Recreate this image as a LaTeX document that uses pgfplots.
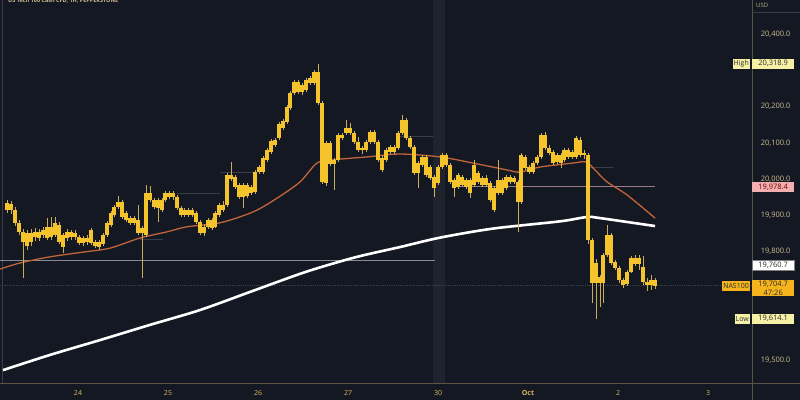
\documentclass[border=0pt]{standalone}
\usepackage{pgfplots}
\pgfplotsset{compat=1.18}
\usepackage{pgfplotstable}
\usepackage{fontspec}
\setmainfont{Open Sans}
\definecolor{bg}{HTML}{141823}
\definecolor{band}{HTML}{1F232E}
\definecolor{bodyc}{HTML}{F5C42C}
\definecolor{wick}{HTML}{C9AE5A}
\definecolor{ma}{HTML}{C2643A}
\definecolor{lab}{HTML}{CFBE8E}
\definecolor{datec}{HTML}{D8B95E}
\definecolor{sep}{HTML}{5A5444}
\definecolor{hiy}{HTML}{F6F0A6}
\definecolor{pinkb}{HTML}{F2AFAF}
\definecolor{nasb}{HTML}{F5B41E}
\definecolor{dark}{HTML}{2A2A2A}
\definecolor{hline}{HTML}{8A8A96}
\definecolor{pline}{HTML}{9A7C84}
\definecolor{fline}{HTML}{3A3E4A}

\pgfplotstableread{
x o h l c
7 19915 19942 19906 19934
11 19931 19939 19903 19915
15 19914 19923 19870 19879
19 19879 19887 19845 19854
23 19854 19862 19727 19826
27 19815 19859 19804 19851
31 19851 19862 19815 19826
35 19840 19865 19829 19854
39 19854 19862 19829 19837
43 19845 19868 19837 19859
47 19837 19892 19831 19867
51 19867 19895 19832 19840
55 19845 19895 19840 19879
59 19873 19880 19820 19826
63 19812 19850 19796 19845
67 19837 19862 19830 19854
71 19854 19860 19832 19840
75 19840 19858 19832 19851
79 19840 19845 19817 19823
83 19823 19843 19815 19837
87 19837 19845 19818 19826
91 19823 19865 19817 19859
95 19826 19832 19808 19815
99 19812 19832 19805 19826
103 19820 19851 19815 19845
107 19845 19884 19840 19879
111 19873 19912 19868 19906
114 19901 19928 19895 19923
118 19923 19953 19918 19936
122 19936 19942 19890 19895
126 19906 19912 19881 19887
130 19892 19898 19873 19879
134 19879 19898 19873 19892
138 19887 19928 19845 19851
142 19851 19870 19727 19865
146 19845 19983 19840 19961
150 19961 19980 19936 19942
154 19942 19948 19917 19923
158 19920 19948 19881 19942
162 19942 19948 19908 19914
165 19942 19966 19936 19961
169 19961 19967 19945 19950
173 19950 19966 19942 19961
177 19950 19956 19914 19920
181 19920 19925 19895 19901
184 19901 19920 19895 19914
188 19914 19920 19895 19901
192 19901 19920 19894 19914
196 19906 19912 19876 19881
200 19881 19887 19845 19851
204 19851 19876 19842 19868
208 19868 19892 19862 19887
212 19887 19892 19860 19865
215 19868 19912 19865 19906
219 19901 19934 19895 19928
223 19928 19940 19908 19914
227 19928 20017 19922 20011
231 20011 20047 19994 20000
235 20005 20011 19972 19978
239 19983 19989 19945 19950
243 19950 19989 19920 19983
247 19983 19989 19948 19953
251 19961 19983 19956 19978
255 19964 20025 19958 20019
259 20019 20039 20014 20033
263 20019 20064 20014 20058
267 20053 20086 20047 20080
271 20075 20111 20069 20105
275 20094 20113 20088 20108
279 20113 20157 20108 20152
283 20141 20166 20135 20160
287 20157 20204 20152 20199
290 20196 20243 20191 20238
294 20238 20273 20232 20268
298 20268 20274 20235 20240
302 20240 20265 20232 20260
306 20246 20280 20240 20274
310 20265 20285 20260 20279
314 20265 20301 20260 20296
318 20296 20318.9 20205 20210
322 20210 20215 19986 19992
326 19989 20105 19980 20100
330 20100 20105 20036 20041
334 20041 20058 19970 20053
338 20053 20127 20047 20122
342 20122 20127 20108 20114
346 20127 20163 20122 20141
350 20141 20155 20122 20127
354 20127 20133 20097 20102
358 20102 20116 20075 20080
362 20080 20091 20069 20086
366 20080 20108 20075 20102
370 20102 20135 20097 20130
374 20130 20135 20097 20102
378 20102 20108 20047 20053
382 20058 20064 20019 20025
386 20053 20086 20047 20080
390 20075 20094 20069 20088
394 20088 20094 20069 20075
398 20086 20133 20080 20127
402 20127 20177 20122 20163
406 20163 20168 20108 20113
410 20113 20119 20083 20088
414 20088 20094 20011 20017
418 20017 20050 19975 20044
422 20039 20066 20033 20061
426 20061 20066 20005 20011
430 20033 20039 19997 20003
434 20005 20011 19950 19975
438 19989 20039 19983 20033
442 20033 20072 20028 20066
446 20066 20072 20033 20039
450 20039 20044 19986 19992
454 19997 20003 19950 19975
458 19978 20017 19972 20011
462 20005 20011 19978 19983
466 19978 20003 19972 19997
470 19997 20003 19948 19961
474 19983 20053 19978 20039
478 20017 20022 19986 19992
482 19983 20008 19978 20003
486 20003 20011 19978 19983
490 19989 19994 19936 19942
494 19975 19980 19908 19914
498 19961 20053 19956 19997
502 19997 20003 19955 19961
506 19975 20011 19970 20005
510 20005 20011 19986 19992
514 19992 20008 19986 20003
518 19992 19997 19854 19936
521 19936 20072 19931 20066
525 20061 20066 20025 20030
529 20033 20039 20014 20019
533 20019 20050 20014 20044
537 20044 20066 20039 20061
541 20061 20127 20055 20122
545 20122 20130 20080 20086
549 20086 20094 20066 20072
553 20075 20080 20039 20044
557 20047 20072 20041 20066
561 20066 20072 20030 20044
564 20053 20086 20047 20080
568 20080 20086 20055 20061
572 20061 20080 20055 20075
576 20061 20119 20055 20113
580 20108 20116 20061 20066
584 20066 20080 20055 20072
588 20066 20072 19820 19832
592 19832 19837 19657 19713
596 19713 19780 19614.1 19768
600 19729 19735 19646 19713
603 19713 19796 19657 19790
607 19790 19873 19784 19845
611 19845 19851 19762 19768
615 19771 19776 19748 19754
619 19754 19760 19713 19721
623 19721 19727 19699 19707
627 19710 19748 19704 19743
631 19743 19787 19740 19782
635 19782 19790 19760 19765
639 19765 19790 19750 19782
643 19757 19787 19707 19716
647 19716 19727 19690 19707
651 19707 19735 19693 19721
655 19721 19727 19696 19704.7
}\candles

\begin{document}
\begin{tikzpicture}
\begin{axis}[
  scale only axis, width=800pt, height=400pt,
  xmin=0, xmax=800, ymin=19389.5, ymax=20494.5,
  axis background/.style={fill=bg},
  axis line style={draw=none},
  tick style={draw=none}, major tick length=0pt,
  scaled ticks=false,
  xtick={78,168,258,348,438,528,618,708},
  xticklabels={24,25,26,27,30,\textbf{Oct},2,3},
  xticklabel style={anchor=south, font=\fontsize{7}{8}\selectfont, text=datec, yshift=1pt},
  ytick={19500,19800,19900,20000,20100,20200,20400},
  yticklabel pos=right,
  yticklabel style={anchor=east, xshift=-6pt, font=\fontsize{7.5}{9}\selectfont, text=lab,
    /pgf/number format/.cd, fixed, fixed zerofill, precision=1, 1000 sep={,}, assume math mode=true},
  clip=true,
]
% session band and frame lines
\fill[band] (433,19436.5) rectangle (445,20494.5);
\draw[fline, line width=1pt] (2,19436.5) -- (2,20494.5);
\draw[sep, line width=0.8pt] (0,19436.5) -- (800,19436.5);
\draw[sep, line width=0.8pt] (752,19389.5) -- (752,20494.5);
% horizontal levels
\draw[hline, line width=1pt] (0,19776) -- (435,19776);
\draw[pline, line width=1pt] (460,19978.4) -- (655,19978.4);
\draw[fline, line width=0.8pt, densely dotted] (0,19704.7) -- (752,19704.7);
\draw[fline, line width=0.8pt] (177,19961) -- (220,19961);
\draw[fline, line width=0.8pt] (140,19832) -- (163,19832);
\draw[fline, line width=0.8pt] (220,20017) -- (253,20017);
\draw[fline, line width=0.8pt] (400,20119) -- (433,20119);
\draw[fline, line width=0.8pt] (587,20033) -- (613,20033);
% moving averages
\addplot[white, line width=2.6pt, smooth, mark=none] coordinates {
(3,19472) (50,19514) (100,19555) (150,19597) (200,19638) (250,19688) (300,19738) (330,19764) (360,19787) (400,19812) (440,19838) (493,19863) (560,19883) (587,19895) (600,19892) (655,19870)};
\addplot[ma, line width=1.3pt, smooth, mark=none] coordinates {
(0,19751) (20,19768) (50,19785) (83,19798) (110,19809) (140,19837) (167,19854) (187,19868) (220,19879) (253,19909) (277,19947) (300,19992) (317,20044) (333,20053) (367,20061) (400,20069) (440,20061) (473,20044) (507,20025) (520,20019) (540,20033) (573,20044) (586,20047) (595,20025) (607,19992) (627,19956) (655,19892)};
% candles: wicks then bodies
\addplot[draw=none, mark=none, forget plot,
  error bars/.cd, y dir=both, y explicit, error mark=none,
  error bar style={draw=wick, line width=0.8pt}]
  table[x=x, y expr={(\thisrow{h}+\thisrow{l})/2}, y error expr={(\thisrow{h}-\thisrow{l})/2}] {\candles};
\addplot[draw=none, mark=none, forget plot,
  error bars/.cd, y dir=both, y explicit, error mark=none,
  error bar style={draw=bodyc, line width=3.2pt}]
  table[x=x, y expr={(\thisrow{o}+\thisrow{c})/2}, y error expr={max(abs(\thisrow{c}-\thisrow{o})/2,1.2)}] {\candles};
% title and currency
\node[anchor=west, text=lab, font=\fontsize{5.5}{6}\selectfont\bfseries, inner sep=0pt] at (8,20492) {US Tech 100 Cash CFD, 1H, PEPPERSTONE};
\draw[fline, line width=0.8pt] (752,20461) -- (800,20461);
\node[anchor=west, text=lab!80!gray, font=\fontsize{6}{7}\selectfont, inner sep=0pt] at (756,20481) {USD};
% price tags
\node[fill=hiy, text=dark, anchor=west, inner sep=1pt, minimum width=42pt, minimum height=10pt, font=\fontsize{7.5}{9}\selectfont] at (752,20318.9) {20,318.9};
\node[fill=hiy, text=dark, anchor=east, inner sep=1pt, minimum height=10pt, font=\fontsize{7}{9}\selectfont] at (750,20318.9) {High};
\node[fill=pinkb, text=red!45!black, anchor=west, inner sep=1pt, minimum width=42pt, minimum height=10pt, font=\fontsize{7.5}{9}\selectfont] at (752,19978.4) {19,978.4};
\node[fill=white, draw=gray, text=dark, anchor=west, inner sep=1pt, minimum width=42pt, minimum height=10pt, font=\fontsize{7.5}{9}\selectfont] at (752,19760.7) {19,760.7};
\node[fill=nasb, text=dark, anchor=north west, inner sep=1pt, minimum width=42pt, align=center, font=\fontsize{7.5}{8.5}\selectfont] at (752,19721) {19,704.7\\47:26};
\node[fill=nasb, text=dark, anchor=east, inner sep=1pt, minimum height=10pt, font=\fontsize{7}{9}\selectfont] at (750,19704.7) {NAS100};
\node[fill=hiy, text=dark, anchor=west, inner sep=1pt, minimum width=42pt, minimum height=10pt, font=\fontsize{7.5}{9}\selectfont] at (752,19614.1) {19,614.1};
\node[fill=hiy, text=dark, anchor=east, inner sep=1pt, minimum height=10pt, font=\fontsize{7}{9}\selectfont] at (750,19614.1) {Low};
\end{axis}
\end{tikzpicture}
\end{document}
